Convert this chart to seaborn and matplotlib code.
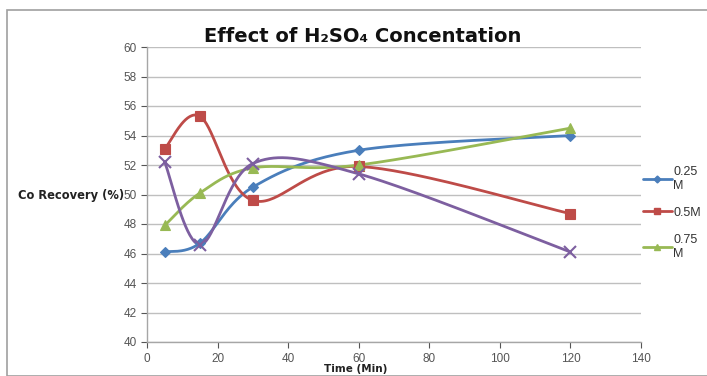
import numpy as np
import pandas as pd
import matplotlib
matplotlib.use("Agg")
import matplotlib.pyplot as plt
from matplotlib.patches import Rectangle
from matplotlib.lines import Line2D
import seaborn as sns

# ---- data ----
time_min = [5, 15, 30, 60, 120]
rec_025 = [46.1, 46.7, 50.5, 53.0, 54.0]
rec_05 = [53.1, 55.3, 49.6, 51.9, 48.7]
rec_075 = [47.9, 50.1, 51.8, 52.0, 54.5]
rec_1 = [52.2, 46.6, 52.1, 51.4, 46.1]
series_labels = ["0.25\nM", "0.5M", "0.75\nM", "1M"]
x_ticks = [0, 20, 40, 60, 80, 100, 120, 140]
y_ticks = [40, 42, 44, 46, 48, 50, 52, 54, 56, 58, 60]

colors = ["#4A7EBB", "#BE4B48", "#98B954", "#7D5FA0"]
markers = ["D", "s", "^", "x"]
msizes = [5, 7, 7, 8]

sns.set_theme(style="white")
plt.rcParams["font.family"] = ["Liberation Sans", "DejaVu Sans"]


def excel_smooth(xs, ys, n=40):
    """Excel-like smoothed line (Catmull-Rom Bezier) through data points."""
    xs = np.asarray(xs, float)
    ys = np.asarray(ys, float)
    P = np.column_stack([xs, ys])
    out = []
    for i in range(len(P) - 1):
        p0 = P[i - 1] if i > 0 else P[i]
        p1 = P[i]
        p2 = P[i + 1]
        p3 = P[i + 2] if i + 2 < len(P) else P[i + 1]
        c1 = p1 + (p2 - p0) / 6.0
        c2 = p2 - (p3 - p1) / 6.0
        t = np.linspace(0, 1, n)[:, None]
        seg = ((1 - t) ** 3) * p1 + 3 * ((1 - t) ** 2) * t * c1 + 3 * (1 - t) * t ** 2 * c2 + t ** 3 * p2
        out.append(seg if i == 0 else seg[1:])
    out = np.vstack(out)
    return out[:, 0], out[:, 1]


W, H = 707, 376
fig = plt.figure(figsize=(W / 100, H / 100), dpi=100)
fig.patch.set_facecolor("white")
fig.patches.append(Rectangle((7 / W, 0), 1.2, (H - 10) / H, transform=fig.transFigure,
                             fill=False, edgecolor="#A0A0A0", linewidth=1.2))

ax = fig.add_axes([147 / W, (H - 342) / H, (641 - 147) / W, (342 - 47) / H])

all_series = [rec_025, rec_05, rec_075, rec_1]
handles = []
for vals, lab, c, m, ms in zip(all_series, series_labels, colors, markers, msizes):
    sx, sy = excel_smooth(time_min, vals)
    ax.plot(sx, sy, color=c, lw=2, zorder=3)
    df = pd.DataFrame({"t": time_min, "v": vals})
    sns.lineplot(data=df, x="t", y="v", ax=ax, color=c, marker=m, markersize=ms,
                 linestyle="none", markeredgecolor=c, markeredgewidth=1.5 if m == "x" else 0.8,
                 zorder=4)
    handles.append(Line2D([0], [0], color=c, lw=2, marker=m, markersize=ms * 0.7,
                          markeredgecolor=c))

ax.set_xlim(0, 140)
ax.set_ylim(40, 60)
ax.set_xticks(x_ticks)
ax.set_yticks(y_ticks)
ax.tick_params(axis="both", labelsize=8.5, colors="#555555", length=4, direction="out",
               bottom=True, left=True, width=0.8)
ax.tick_params(axis="x", pad=4)
ax.grid(axis="y", color="#BFBFBF", lw=1)
ax.grid(axis="x", visible=False)
for s in ["top", "right"]:
    ax.spines[s].set_visible(False)
for s in ["left", "bottom"]:
    ax.spines[s].set_color("#A6A6A6")
    ax.spines[s].set_linewidth(1)
ax.set_xlabel("")
ax.set_ylabel("")

fig.text(363 / W, 1 - 36 / H, "Effect of H\u2082SO\u2084 Concentation", ha="center", va="center",
         fontsize=14, fontweight="bold", color="#111111", family=["DejaVu Sans"])
fig.text(18 / W, 1 - 196 / H, "Co Recovery (%)", ha="left", va="center",
         fontsize=8.3, fontweight="bold", color="#222222", family=["DejaVu Sans"], zorder=10)
fig.text(356 / W, 1 - 369 / H, "Time (Min)", ha="center", va="center",
         fontsize=7.5, fontweight="bold", color="#222222", family=["DejaVu Sans"])

leg = fig.legend(handles[:3], series_labels[:3], loc="upper left",
                 bbox_to_anchor=(643 / W, 1 - 166 / H), frameon=False, fontsize=9,
                 handlelength=2.3, handletextpad=0.1, labelspacing=1.2, borderaxespad=0,
                 borderpad=0)
for t in leg.get_texts():
    t.set_color("#333333")

fig.savefig("out.png", dpi=100)
